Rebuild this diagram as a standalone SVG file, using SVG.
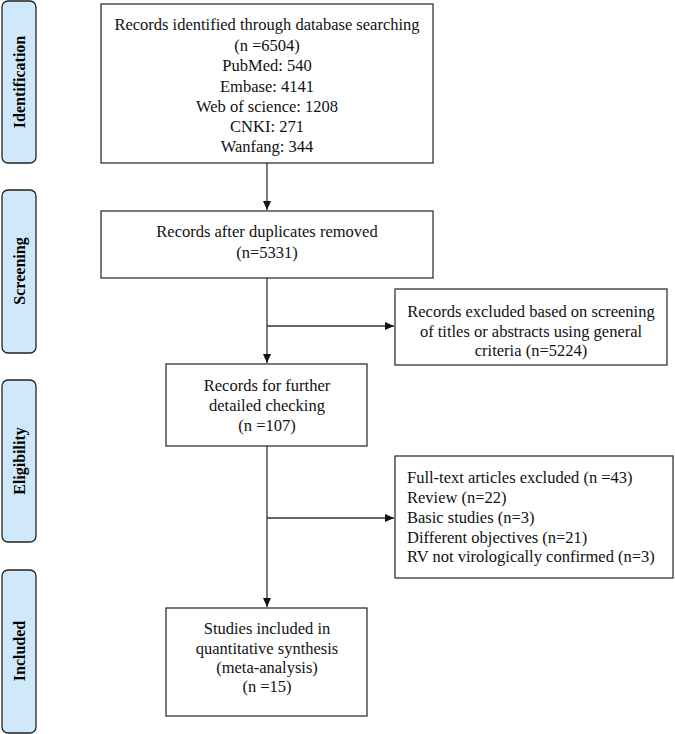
<svg xmlns="http://www.w3.org/2000/svg" width="675" height="734" viewBox="0 0 675 734">
<defs>
<marker id="arr" markerWidth="10" markerHeight="10" refX="9" refY="5" orient="auto" markerUnits="userSpaceOnUse">
<path d="M0,1 L9,5 L0,9 Z" fill="#111"/>
</marker>
<style>
.stage rect{fill:#cfe9fb;stroke:#222;stroke-width:1.3}
.stage text{font-family:"Liberation Serif","Times New Roman",serif;font-weight:bold;font-size:16px;fill:#000;text-anchor:middle}
.box rect{fill:#fff;stroke:#333;stroke-width:1.3}
.box text{font-family:"Liberation Serif","Times New Roman",serif;font-size:16.5px;fill:#111;text-anchor:middle}
.box text.left{text-anchor:start}
.conn line{stroke:#333;stroke-width:1.3;fill:none}
</style>
</defs>
<rect width="675" height="734" fill="#fff"/>
<g id="stage-identification" class="stage"><rect x="2" y="1" width="34" height="162" rx="6"/><text transform="translate(25,82) rotate(-90)">Identification</text></g>
<g id="stage-screening" class="stage"><rect x="2" y="190" width="34" height="163" rx="6"/><text transform="translate(25,271) rotate(-90)">Screening</text></g>
<g id="stage-eligibility" class="stage"><rect x="2" y="380" width="34" height="162" rx="6"/><text transform="translate(25,461) rotate(-90)">Eligibility</text></g>
<g id="stage-included" class="stage"><rect x="2" y="570" width="34" height="163" rx="6"/><text transform="translate(25,651) rotate(-90)">Included</text></g>

<g id="identified" class="box"><rect x="101" y="4" width="332" height="159"/>
<text x="267" y="30">Records identified through database searching</text>
<text x="267" y="51">(n =6504)</text>
<text x="267" y="71">PubMed: 540</text>
<text x="267" y="92">Embase: 4141</text>
<text x="267" y="112">Web of science: 1208</text>
<text x="267" y="132">CNKI: 271</text>
<text x="267" y="152">Wanfang: 344</text>
</g>
<g id="deduplicated" class="box"><rect x="101" y="211" width="332" height="67"/>
<text x="267" y="237">Records after duplicates removed</text>
<text x="267" y="258">(n=5331)</text>
</g>
<g id="excluded-screening" class="box"><rect x="395" y="289" width="272" height="76"/>
<text x="531" y="317">Records excluded based on screening</text>
<text x="531" y="337">of titles or abstracts using general</text>
<text x="531" y="356">criteria (n=5224)</text>
</g>
<g id="further-checking" class="box"><rect x="166" y="364" width="201" height="82"/>
<text x="267" y="391">Records for further</text>
<text x="267" y="411">detailed checking</text>
<text x="267" y="431">(n =107)</text>
</g>
<g id="excluded-fulltext" class="box"><rect x="395" y="456" width="278" height="122"/>
<text class="left" x="407" y="483">Full-text articles excluded (n =43)</text>
<text class="left" x="407" y="503">Review (n=22)</text>
<text class="left" x="407" y="523">Basic studies (n=3)</text>
<text class="left" x="407" y="543">Different objectives (n=21)</text>
<text class="left" x="407" y="562">RV not virologically confirmed (n=3)</text>
</g>
<g id="included" class="box"><rect x="166" y="608" width="201" height="108"/>
<text x="267" y="634">Studies included in</text>
<text x="267" y="654">quantitative synthesis</text>
<text x="267" y="673">(meta-analysis)</text>
<text x="267" y="692">(n =15)</text>
</g>

<g id="connectors" class="conn">
<line x1="267" y1="163" x2="267" y2="210" marker-end="url(#arr)"/>
<line x1="267" y1="278" x2="267" y2="363" marker-end="url(#arr)"/>
<line x1="267" y1="326" x2="394" y2="326" marker-end="url(#arr)"/>
<line x1="267" y1="446" x2="267" y2="607" marker-end="url(#arr)"/>
<line x1="267" y1="518" x2="394" y2="518" marker-end="url(#arr)"/>
</g>
</svg>
